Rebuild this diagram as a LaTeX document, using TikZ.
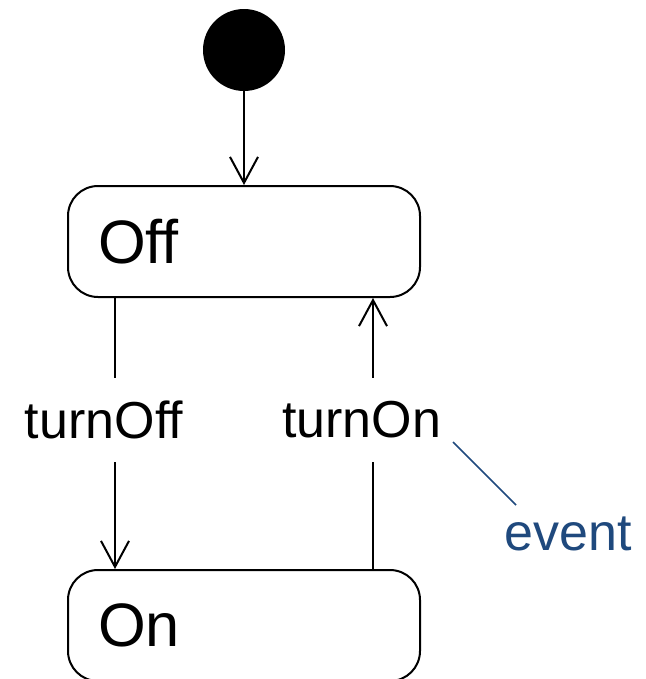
\documentclass[tikz,border=0pt]{standalone}
\usepackage{fontspec}
\setmainfont{Liberation Sans}
\usepackage{xcolor}
\usetikzlibrary{arrows.meta}
\definecolor{notecolor}{RGB}{31,73,125}
\tikzstyle{state} = [draw, rectangle, rounded corners=22.5pt, minimum height=83.25pt, text width=219pt, inner xsep=22.5pt, align=left, font=\fontsize{46}{55}\selectfont]
\tikzstyle{init} = [draw, circle, fill=black, minimum size=60pt, inner sep=0pt]
\tikzstyle{trans} = [fill=white, inner xsep=0pt, minimum height=63pt, font=\fontsize{39}{47}\selectfont]
\tikzstyle{note} = [text=notecolor, inner sep=0pt, font=\fontsize{39}{47}\selectfont]

\begin{document}
\begin{tikzpicture}[x=0.75pt, y=-0.75pt, line width=1.5pt, >={Straight Barb[length=19.5pt,width=21pt]}]
        \useasboundingbox (0,0) rectangle (646,679);

        % states
        \node [init] (start) at (244,50) {};
        \node [state] (Off) at (244,241.5) {Off};
        \node [state] (On) at (244,625.5) {On};

        % transitions
        \draw [->] (start) -- (Off);
        \draw [->] ([xshift=36pt]Off.south west) -- node [trans, pos=0.45, xshift=-8.25pt] (tOff) {turnOff} ([xshift=36pt]On.north west);
        \draw [->] ([xshift=-36pt]On.north east) -- node [trans, pos=0.55, xshift=-8.6pt] (tOn) {turnOn} ([xshift=-36pt]Off.south east);

        % note
        \coordinate (evtA) at (453,442);
        \coordinate (evtB) at (516,505);
        \draw [notecolor, line width=1.1pt] (evtA) -- (evtB);
        \node [note] (evt) at (568,534) {event};
    \end{tikzpicture}
\end{document}
